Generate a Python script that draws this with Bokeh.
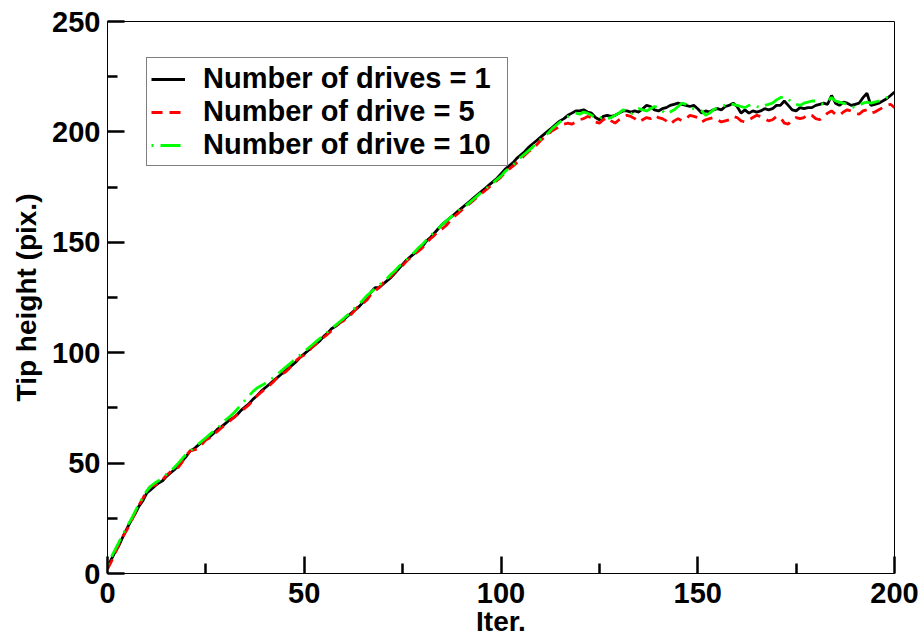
from bokeh.plotting import figure
from bokeh.models import Range1d, FixedTicker, Legend, LegendItem
from bokeh.embed import file_html
from bokeh.resources import INLINE

iterations = list(range(0, 201))

drives_1 = [
    3, 6.5, 10, 13, 17, 20.5, 24, 27, 30.5, 33, 36.5, 38, 39.5, 41, 42, 44, 45.5, 47, 49, 51,
    53, 55.5, 56.5, 58, 59.5, 61, 62, 63.5, 65.5, 66.5, 68, 69.5, 70.5, 72, 74, 75.5, 77, 79, 80.5, 82.5,
    84, 85.5, 87, 88.5, 90, 91.5, 93, 94.5, 96, 98, 99.5, 101, 102.5, 104, 105.5, 107.5, 109, 111, 112, 113.5,
    115, 116.5, 118, 119.5, 121, 123, 125, 127.5, 129.5, 129.5, 131, 132.5, 134, 136, 138, 140, 142, 143.5, 145, 146.5,
    148, 150.5, 152, 154, 156, 158, 159.5, 161, 162.5, 164, 165.5, 167, 168.5, 170, 171.5, 173, 174.5, 176, 177.5, 179,
    181, 183, 184.5, 186, 188, 189.5, 191, 193, 194.5, 196, 197.5, 199, 200.5, 202, 203.5, 205, 206, 207.5, 208.5, 209.5,
    209.5, 210, 209, 208.5, 206.5, 205.5, 207, 207.5, 207, 207.5, 208.5, 209.5, 209.5, 209, 209.5, 209, 210.5, 212, 211.5, 210,
    209.5, 210.5, 211, 212, 212.5, 213, 212.5, 212, 211.5, 212, 210.5, 208.5, 209.5, 209, 210, 210.5, 210, 211.5, 212, 213,
    211.5, 208.5, 210, 208.5, 209.5, 209, 209.5, 210.5, 210, 210.5, 212, 212, 214, 212, 210, 209.5, 211, 210.5, 211, 211,
    212, 212.5, 213, 212.5, 216.5, 213, 212, 213.5, 213, 212, 212.5, 213, 215.5, 217.5, 212, 212.5, 213, 214, 215, 216.5,
    218,
]

drives_5 = [
    2, 5.5, 9.5, 13.5, 17, 20, 23.5, 27.5, 31, 34, 37.5, 39.5, 40, 41, 42.5, 44.5, 46, 47.5, 48, 50.5,
    53.5, 55.5, 56, 56.5, 58.5, 60.5, 61.5, 63, 64.5, 66, 67.5, 69, 70.5, 72, 73.5, 75, 76.5, 78.5, 80.5, 82,
    83.5, 85, 86.5, 88.5, 90, 91, 92.5, 94.5, 96.5, 98, 99, 100.5, 102.5, 104, 106, 107, 108.5, 110, 112, 113.5,
    114.5, 116, 117.5, 119.5, 121.5, 122.5, 124, 126.5, 128, 129.5, 131.5, 133, 134.5, 136.5, 138, 139.5, 141.5, 143, 144.5, 146,
    147.5, 149.5, 151.5, 153, 155, 156, 157.5, 159.5, 161.5, 163, 164.5, 166, 167.5, 169, 170.5, 172, 173.5, 175, 176.5, 178,
    179.5, 181.5, 183, 184.5, 186, 187.5, 189.5, 191, 192.5, 194, 196, 197.5, 199, 200.5, 201.5, 203, 203.5, 204, 203.5, 204.5,
    205.5, 206, 207, 206.5, 204.5, 204, 205.5, 206.5, 205, 204, 205.5, 206.5, 207.5, 207, 206, 204.5, 205.5, 206.5, 206, 207.5,
    206.5, 206, 205, 203.5, 205, 206, 205, 206, 207.5, 207, 206.5, 204.5, 205.5, 206, 206.5, 205.5, 204.5, 205, 205.5, 207,
    206.5, 205, 204.5, 205.5, 206.5, 207.5, 207, 206, 205, 205.5, 207, 206.5, 204, 203.5, 205.5, 206.5, 206, 206.5, 208, 207.5,
    206, 205.5, 207, 208.5, 209.5, 208, 207.5, 209, 210, 209.5, 208.5, 208, 209.5, 210, 208.5, 209, 210, 211, 212, 212.5,
    211,
]

drives_10 = [
    4, 7.5, 11, 14.5, 18, 21.5, 24.5, 28, 31.5, 34.5, 37.5, 39.5, 41, 42, 43.5, 45, 46.5, 48, 50, 52,
    54, 55.5, 57, 58.5, 60, 61.5, 63, 64.5, 66, 67.5, 69.5, 71, 72.5, 74.5, 76.5, 78.5, 80.5, 82.5, 84, 85,
    86, 87.5, 88.5, 90, 91.5, 93, 94.5, 96, 97.5, 99, 100.5, 102, 103.5, 105, 106.5, 108, 109.5, 111, 112.5, 114,
    115.5, 117, 118.5, 120.5, 122, 124, 126, 127.5, 129, 130.5, 132, 133.5, 135.5, 137, 139, 140.5, 142, 144, 145.5, 147.5,
    149, 151, 153, 154.5, 156, 158, 159.5, 161, 162.5, 164, 165.5, 166.5, 168, 169.5, 171, 172.5, 174, 175.5, 177, 178.5,
    180, 182, 183.5, 185, 186.5, 188.5, 190, 191.5, 193, 195, 196.5, 198, 199.5, 201.5, 203, 204.5, 206, 207, 208, 208.5,
    208, 209, 208.5, 207.5, 206.5, 206, 207, 206, 206.5, 207.5, 208.5, 210, 209.5, 208, 209.5, 210.5, 210, 209.5, 210.5, 211.5,
    211, 209.5, 208, 209, 210, 211.5, 213, 212.5, 211, 210.5, 210, 209.5, 207.5, 208.5, 210, 211, 211.5, 212, 213, 212.5,
    212, 211.5, 211, 212, 212.5, 211.5, 211, 212, 212.5, 213, 214.5, 215.5, 216, 215, 213, 212.5, 212, 213, 213.5, 214,
    214, 213, 212.5, 214, 215.5, 214, 213.5, 213, 212.5, 211.5, 211, 212, 213, 213.5, 213, 213.5, 214, 214.5, 215.5, 215,
    214,
]

labels = ["Number of drives = 1", "Number of drive = 5", "Number of drive = 10"]
x_ticks = [0, 50, 100, 150, 200]
x_minor = [25, 75, 125, 175]
y_ticks = [0, 50, 100, 150, 200, 250]
y_minor = [25, 75, 125, 175, 225]

FONT = "Liberation Sans"

p = figure(width=924, height=639, output_backend="svg", toolbar_location=None,
           x_range=Range1d(0, 200), y_range=Range1d(0, 250),
           min_border_left=107, min_border_right=30, min_border_top=21, min_border_bottom=66)
p.grid.visible = False
p.background_fill_color = "white"
p.border_fill_color = "white"
p.outline_line_color = "black"
p.outline_line_width = 1

r1 = p.line(iterations, drives_1, line_color="black", line_width=2.8)
r2 = p.line(iterations, drives_5, line_color="#ff0000", line_width=2.8, line_dash="11 7")
r3 = p.line(iterations, drives_10, line_color="#00ff00", line_width=2.8, line_dash="2 7 20 7")

for ax, ticks, minor in ((p.xaxis[0], x_ticks, x_minor), (p.yaxis[0], y_ticks, y_minor)):
    ax.ticker = FixedTicker(ticks=ticks, minor_ticks=minor)
    ax.major_tick_in = 17
    ax.major_tick_out = 0
    ax.minor_tick_in = 10
    ax.minor_tick_out = 0
    ax.major_tick_line_width = 2.5
    ax.minor_tick_line_width = 2.5
    ax.major_tick_line_color = "black"
    ax.minor_tick_line_color = "black"
    ax.axis_line_width = 1
    ax.axis_line_color = "black"
    ax.major_label_text_font = FONT
    ax.major_label_text_font_style = "bold"
    ax.major_label_text_font_size = "29px"
    ax.major_label_text_color = "black"
    ax.axis_label_text_font = FONT
    ax.axis_label_text_font_style = "bold"
    ax.axis_label_text_font_size = "28px"
    ax.axis_label_text_color = "black"

p.xaxis.major_label_standoff = 9
p.yaxis.major_label_standoff = 7
p.xaxis.axis_label = "Iter."
p.yaxis.axis_label = "Tip height (pix.)"
p.xaxis.axis_label_standoff = 0
p.yaxis.axis_label_standoff = 7

legend = Legend(items=[LegendItem(label=labels[0], renderers=[r1]),
                       LegendItem(label=labels[1], renderers=[r2]),
                       LegendItem(label=labels[2], renderers=[r3])],
                location=(39, 407))
legend.label_text_font = FONT
legend.label_text_font_style = "bold"
legend.label_text_font_size = "29px"
legend.label_text_color = "black"
legend.border_line_color = "black"
legend.border_line_width = 1
legend.background_fill_alpha = 1
legend.glyph_width = 34
legend.glyph_height = 30
legend.label_height = 30
legend.label_width = 300
legend.label_standoff = 18
legend.spacing = -2
legend.padding = 4
legend.margin = 0
p.add_layout(legend)

open("out.html", "w").write(file_html(p, INLINE))
